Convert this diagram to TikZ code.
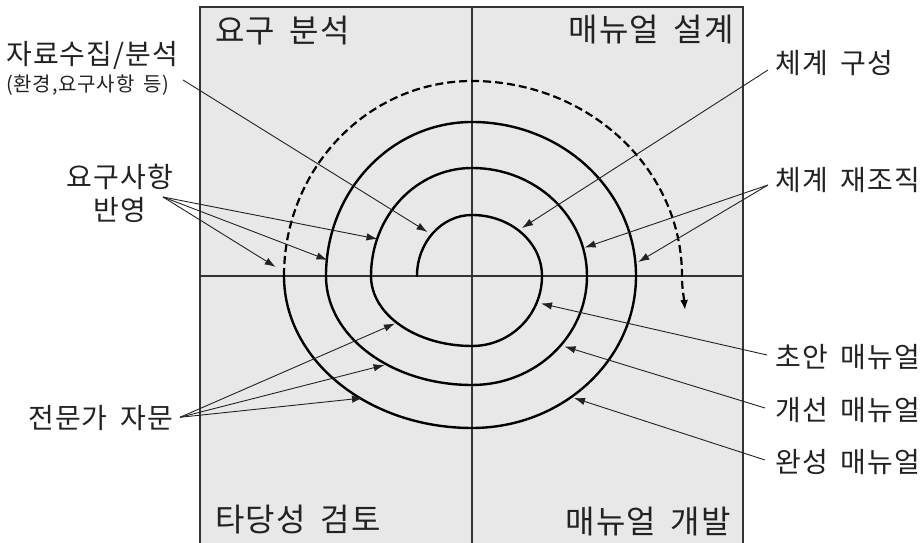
\documentclass[tikz,border=0pt]{standalone}
\usepackage{fontspec}
\setmainfont[WordSpace=1.7,LetterSpace=4]{Noto Sans CJK KR}
\usetikzlibrary{arrows.meta}
\definecolor{bg}{RGB}{232,232,232}
\definecolor{ink}{RGB}{34,34,34}
\tikzset{
  head/.style={font=\fontsize{32}{36}\selectfont, text=ink, inner sep=0pt},
  lab/.style={font=\fontsize{28}{32}\selectfont, text=ink, inner sep=0pt},
  sublab/.style={font=\fontsize{20}{24}\selectfont, text=ink, inner sep=0pt},
  pointer/.style={draw=ink, line width=0.9pt, -{Latex[length=11pt,width=7.5pt]}},
  spiralline/.style={draw=black, line width=2.4pt},
  grid/.style={draw=black!80, line width=1.3pt}
}
\begin{document}
\begin{tikzpicture}[x=1pt,y=1pt]
\useasboundingbox (0,0) rectangle (922,543);
% background box
\fill[bg] (200,0) rectangle (743,536);
\draw[grid] (200,0) -- (200,536) -- (743,536) -- (743,0);
\draw[grid] (472,0) -- (472,536);
\draw[grid] (200,267) -- (743,267);

% spiral
\draw[spiralline, line cap=round] (417,267)
  arc[start angle=180, end angle=90, x radius=55, y radius=61]
  arc[start angle=90, end angle=0, x radius=70, y radius=61]
  arc[start angle=0, end angle=-90, x radius=70, y radius=70]
  arc[start angle=-90, end angle=-180, x radius=101, y radius=70]
  arc[start angle=180, end angle=90, x radius=101, y radius=108]
  arc[start angle=90, end angle=0, x radius=115, y radius=108]
  arc[start angle=0, end angle=-90, x radius=115, y radius=109]
  arc[start angle=-90, end angle=-180, x radius=146, y radius=109]
  arc[start angle=180, end angle=90, x radius=146, y radius=154]
  arc[start angle=90, end angle=0, x radius=164, y radius=154]
  arc[start angle=0, end angle=-90, x radius=164, y radius=152]
  arc[start angle=-90, end angle=-180, x radius=188, y radius=152];
\coordinate (dashend) at (685,233);
\draw[black, line width=2.2pt, dash pattern=on 8pt off 4pt, -{Latex[length=10pt,width=8pt]}] (284,267)
  arc[start angle=180, end angle=90, x radius=188, y radius=195]
  arc[start angle=90, end angle=0, x radius=210, y radius=195]
  to[out=-90,in=95] (dashend);

% quadrant titles
\node[head, anchor=west] (q1) at (215,512) {요구 분석};
\node[head, anchor=east] (q2) at (734,513.5) {매뉴얼 설계};
\node[head, anchor=west] (q3) at (215,23) {타당성 검토};
\node[head, anchor=east] (q4) at (731,21.5) {매뉴얼 개발};

% side labels
\node[lab, anchor=west] (ja) at (6,488) {자료수집/분석};
\node[sublab, anchor=west] (jb) at (6,458) {(환경,요구사항 등)};
\node[lab, align=center] (yo) at (120,350) {요구사항\\[1pt]반영};
\node[lab, anchor=west] (jm) at (28,124.5) {전문가 자문};
\node[lab, anchor=west] (cg) at (775,479.5) {체계 구성};
\node[lab, anchor=west] (cj) at (775,363) {체계 재조직};
\node[lab, anchor=west] (ca) at (775,185.5) {초안 매뉴얼};
\node[lab, anchor=west] (gs) at (775,133) {개선 매뉴얼};
\node[lab, anchor=west] (ws) at (775,80.5) {완성 매뉴얼};

% connector start points
\coordinate (s1) at (183,463);
\coordinate (s2) at (163,346);
\coordinate (s3) at (768,473);
\coordinate (s4) at (768,358);
\coordinate (s5) at (767,188);
\coordinate (s6) at (765,135);
\coordinate (s7) at (765,83);
\coordinate (s8) at (180,125.7);
% targets on the spiral
\coordinate (t1) at (427.5,311);
\coordinate (t2a) at (377.5,304);
\coordinate (t2b) at (327.5,283);
\coordinate (t2c) at (275.7,276);
\coordinate (t3) at (522,315);
\coordinate (t4a) at (584.6,295.4);
\coordinate (t4b) at (638.3,281);
\coordinate (t5) at (541,239.5);
\coordinate (t6) at (564.5,196.5);
\coordinate (t7) at (574,145);
\coordinate (t8a) at (395,219.5);
\coordinate (t8b) at (384.6,178);
\coordinate (t8c) at (363,145);

\draw[pointer] (s1) -- (t1);
\draw[pointer] (s2) -- (t2a);
\draw[pointer] (s2) -- (t2b);
\draw[pointer] (s2) -- (t2c);
\draw[pointer] (s3) -- (t3);
\draw[pointer] (s4) -- (t4a);
\draw[pointer] (s4) -- (t4b);
\draw[pointer] (s5) -- (t5);
\draw[pointer] (s6) -- (t6);
\draw[pointer] (s7) -- (t7);
\draw[pointer] (s8) -- (t8a);
\draw[pointer] (s8) -- (t8b);
\draw[pointer] (s8) -- (t8c);
\end{tikzpicture}
\end{document}
